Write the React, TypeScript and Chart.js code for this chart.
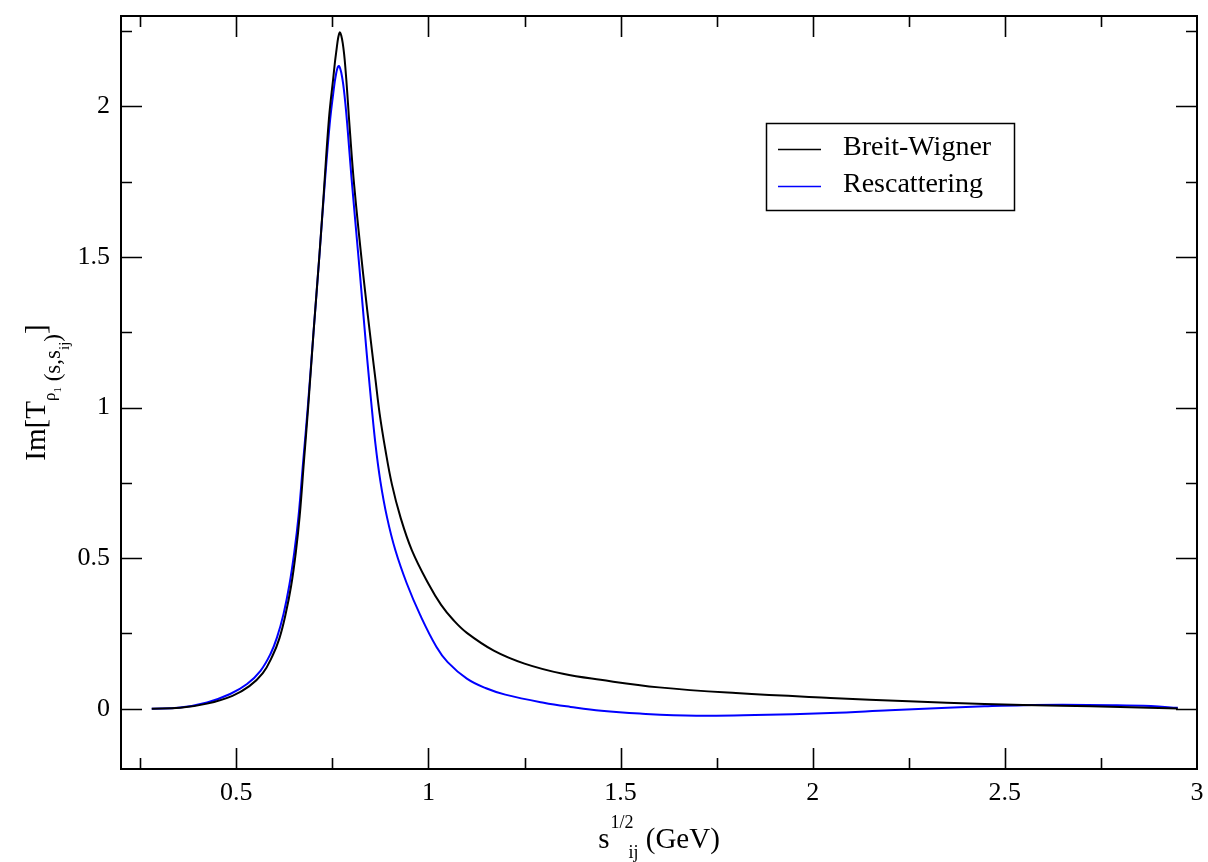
import React, { useEffect, useRef } from "react";
import { Chart, registerables } from "chart.js";

Chart.register(...registerables);

// Breit-Wigner curve (x = sqrt(s_ij) in GeV, y = Im T)
const bwX = [0.28, 0.354, 0.424, 0.49, 0.534, 0.569, 0.594, 0.612, 0.628, 0.643, 0.655, 0.665, 0.676, 0.687, 0.701, 0.716, 0.727, 0.741, 0.752, 0.76, 0.769, 0.777, 0.785, 0.795, 0.807, 0.83, 0.853, 0.862, 0.873, 0.888, 0.905, 0.927, 0.957, 1.0, 1.033, 1.066, 1.1, 1.17, 1.25, 1.35, 1.448, 1.6, 1.8, 2.046, 2.25, 2.447, 2.647, 2.8, 2.95];
const bwY = [0.0, 0.003, 0.017, 0.043, 0.075, 0.118, 0.175, 0.233, 0.312, 0.41, 0.52, 0.64, 0.82, 1.0, 1.25, 1.5, 1.7, 1.957, 2.09, 2.18, 2.245, 2.21, 2.11, 1.93, 1.735, 1.445, 1.19, 1.095, 0.98, 0.86, 0.745, 0.637, 0.526, 0.415, 0.345, 0.293, 0.252, 0.193, 0.15, 0.116, 0.096, 0.071, 0.052, 0.036, 0.025, 0.016, 0.01, 0.006, 0.001];

// Rescattering curve
const resX = [0.28, 0.354, 0.424, 0.484, 0.528, 0.563, 0.589, 0.606, 0.623, 0.638, 0.651, 0.662, 0.674, 0.686, 0.701, 0.716, 0.73, 0.743, 0.752, 0.76, 0.767, 0.775, 0.783, 0.79, 0.8, 0.82, 0.838, 0.844, 0.851, 0.862, 0.875, 0.892, 0.914, 0.944, 0.979, 1.021, 1.05, 1.1, 1.15, 1.2, 1.3, 1.37, 1.45, 1.55, 1.697, 1.85, 2.046, 2.2, 2.35, 2.447, 2.55, 2.65, 2.78, 2.88, 2.95];
const resY = [0.0, 0.004, 0.021, 0.049, 0.082, 0.126, 0.182, 0.237, 0.315, 0.41, 0.52, 0.64, 0.82, 1.0, 1.25, 1.5, 1.74, 1.94, 2.04, 2.11, 2.134, 2.1, 2.02, 1.92, 1.76, 1.47, 1.2, 1.115, 1.02, 0.88, 0.755, 0.637, 0.526, 0.415, 0.31, 0.205, 0.155, 0.1, 0.068, 0.047, 0.02, 0.006, -0.007, -0.016, -0.023, -0.021, -0.014, -0.005, 0.003, 0.008, 0.012, 0.013, 0.012, 0.009, 0.003];

const seriesLabels = ["Breit-Wigner", "Rescattering"];
const seriesColors = ["#000000", "#0000ff"];

const xTickValues = [0.5, 1, 1.5, 2, 2.5, 3];
const yTickValues = [0, 0.5, 1, 1.5, 2];
const xTickLabels = ["0.5", "1", "1.5", "2", "2.5", "3"];
const yTickLabels = ["0", "0.5", "1", "1.5", "2"];

const xMin = 0.2;
const xMax = 3;
const yMin = -0.2;
const yMax = 2.3;
const minorStep = 0.25;

const FONT = "'Liberation Serif', 'Times New Roman', Times, serif";

type Run = { text: string; size: number; dy: number };

function runsWidth(ctx: CanvasRenderingContext2D, runs: Run[]) {
  let w = 0;
  for (const r of runs) {
    ctx.font = `${r.size}px ${FONT}`;
    w += ctx.measureText(r.text).width;
  }
  return w;
}

function drawRuns(ctx: CanvasRenderingContext2D, runs: Run[], x: number, y: number) {
  let cx = x;
  ctx.textBaseline = "alphabetic";
  ctx.textAlign = "left";
  for (const r of runs) {
    ctx.font = `${r.size}px ${FONT}`;
    ctx.fillText(r.text, cx, y + r.dy);
    cx += ctx.measureText(r.text).width;
  }
}

const decorPlugin = {
  id: "decor",
  afterDraw(chart: any) {
    const { ctx, chartArea: a, scales } = chart;
    const xs = scales.x;
    const ys = scales.y;
    ctx.save();
    ctx.strokeStyle = "#000";
    ctx.fillStyle = "#000";

    // inward ticks on all four sides
    ctx.lineWidth = 1.6;
    ctx.beginPath();
    const majorLen = 21;
    const minorLen = 11;
    for (let k = Math.ceil(xMin / minorStep); k * minorStep <= xMax + 1e-9; k++) {
      const v = k * minorStep;
      if (Math.abs(v - xMax) < 1e-9 || Math.abs(v - xMin) < 1e-9) continue;
      const px = Math.round(xs.getPixelForValue(v)) + 0.5;
      const len = k % 2 === 0 ? majorLen : minorLen;
      ctx.moveTo(px, a.bottom);
      ctx.lineTo(px, a.bottom - len);
      ctx.moveTo(px, a.top);
      ctx.lineTo(px, a.top + len);
    }
    for (let k = Math.ceil(yMin / minorStep); k * minorStep <= yMax + 1e-9; k++) {
      const v = k * minorStep;
      const py = Math.round(ys.getPixelForValue(v)) + 0.5;
      const len = k % 2 === 0 ? majorLen : minorLen;
      ctx.moveTo(a.left, py);
      ctx.lineTo(a.left + len, py);
      ctx.moveTo(a.right, py);
      ctx.lineTo(a.right - len, py);
    }
    ctx.stroke();

    // frame
    ctx.lineWidth = 2;
    ctx.strokeRect(a.left, a.top, a.right - a.left, a.bottom - a.top);

    // legend
    const lx = 766, ly = 123, lw = 248, lh = 87;
    ctx.lineWidth = 1.5;
    ctx.strokeRect(lx + 0.5, ly + 0.5, lw, lh);
    const rows = [149, 186];
    chart.data.datasets.forEach((ds: any, i: number) => {
      ctx.strokeStyle = ds.borderColor;
      ctx.lineWidth = 1.5;
      ctx.beginPath();
      ctx.moveTo(778, rows[i] + 0.5);
      ctx.lineTo(821, rows[i] + 0.5);
      ctx.stroke();
      ctx.fillStyle = "#000";
      ctx.font = `28px ${FONT}`;
      ctx.textAlign = "left";
      ctx.textBaseline = "alphabetic";
      ctx.fillText(ds.label, 843, rows[i] + 6);
    });

    // x-axis title: s^{1/2}_{ij} (GeV)
    ctx.fillStyle = "#000";
    const xRuns1: Run[] = [{ text: "s", size: 29, dy: 0 }];
    const supRun: Run = { text: "1/2", size: 18, dy: -20 };
    const subRun: Run = { text: "ij", size: 18, dy: 10 };
    const tailRuns: Run[] = [{ text: " (GeV)", size: 29, dy: 0 }];
    const wS = runsWidth(ctx, xRuns1);
    const wSup = runsWidth(ctx, [supRun]);
    const wSub = runsWidth(ctx, [subRun]);
    const wTail = runsWidth(ctx, tailRuns);
    const total = wS + wSup + wSub * 0.6 + wTail;
    const cx = (a.left + a.right) / 2;
    const x0 = cx - total / 2;
    const base = 848;
    drawRuns(ctx, xRuns1, x0, base);
    drawRuns(ctx, [supRun], x0 + wS + 1, base);
    drawRuns(ctx, [subRun], x0 + wS + wSup - wSub * 0.4, base);
    drawRuns(ctx, tailRuns, x0 + wS + wSup + wSub * 0.6, base);

    // y-axis title: Im[T_{rho_1}(s,s_ij)]
    const yRuns: Run[] = [
      { text: "Im[T", size: 29, dy: 0 },
      { text: "ρ", size: 17, dy: 10 },
      { text: "1", size: 11, dy: 16 },
      { text: " (s,s", size: 23, dy: 15 },
      { text: "ij", size: 15, dy: 24 },
      { text: ")", size: 23, dy: 15 },
      { text: "]", size: 29, dy: 0 },
    ];
    const wy = runsWidth(ctx, yRuns);
    const cy = (a.top + a.bottom) / 2;
    ctx.save();
    ctx.translate(45, cy);
    ctx.rotate(-Math.PI / 2);
    drawRuns(ctx, yRuns, -wy / 2, 0);
    ctx.restore();

    ctx.restore();
  },
};

export default function App() {
  const ref = useRef<HTMLCanvasElement>(null);
  useEffect(() => {
    document.body.style.margin = "0";
    const canvas = ref.current!;
    const chart = new Chart(canvas, {
      type: "line",
      data: {
        datasets: [
          {
            label: seriesLabels[0],
            data: bwX.map((x, i) => ({ x, y: bwY[i] })),
            borderColor: seriesColors[0],
            backgroundColor: seriesColors[0],
            borderWidth: 2,
            pointRadius: 0,
            fill: false,
            tension: 0.4,
          },
          {
            label: seriesLabels[1],
            data: resX.map((x, i) => ({ x, y: resY[i] })),
            borderColor: seriesColors[1],
            backgroundColor: seriesColors[1],
            borderWidth: 2,
            pointRadius: 0,
            fill: false,
            tension: 0.4,
          },
        ],
      },
      options: {
        responsive: false,
        animation: false,
        devicePixelRatio: 1,
        layout: { padding: { top: 16, right: 11, left: 0, bottom: 0 } },
        plugins: {
          legend: { display: false },
          tooltip: { enabled: false },
        },
        scales: {
          x: {
            type: "linear",
            min: xMin,
            max: xMax,
            grid: { display: false, drawTicks: false },
            border: { display: false },
            afterBuildTicks: (s: any) => {
              s.ticks = xTickValues.map((v) => ({ value: v }));
            },
            ticks: {
              autoSkip: false,
              maxRotation: 0,
              padding: 9,
              color: "#000",
              font: { family: FONT, size: 26 },
              callback: (v: any) => {
                const i = xTickValues.indexOf(Number(v));
                return i >= 0 ? xTickLabels[i] : "";
              },
            },
            afterFit: (s: any) => {
              s.height = 93;
              s.paddingLeft = 0;
              s.paddingRight = 0;
            },
          },
          y: {
            type: "linear",
            min: yMin,
            max: yMax,
            grid: { display: false, drawTicks: false },
            border: { display: false },
            afterBuildTicks: (s: any) => {
              s.ticks = yTickValues.map((v) => ({ value: v }));
            },
            ticks: {
              autoSkip: false,
              padding: 11,
              color: "#000",
              font: { family: FONT, size: 26 },
              callback: (v: any) => {
                const i = yTickValues.indexOf(Number(v));
                return i >= 0 ? yTickLabels[i] : "";
              },
            },
            afterFit: (s: any) => {
              s.width = 121;
              s.paddingTop = 0;
              s.paddingBottom = 0;
            },
          },
        },
      } as any,
      plugins: [decorPlugin],
    });
    return () => chart.destroy();
  }, []);
  return <canvas ref={ref} width={1208} height={862} style={{ display: "block" }} />;
}
